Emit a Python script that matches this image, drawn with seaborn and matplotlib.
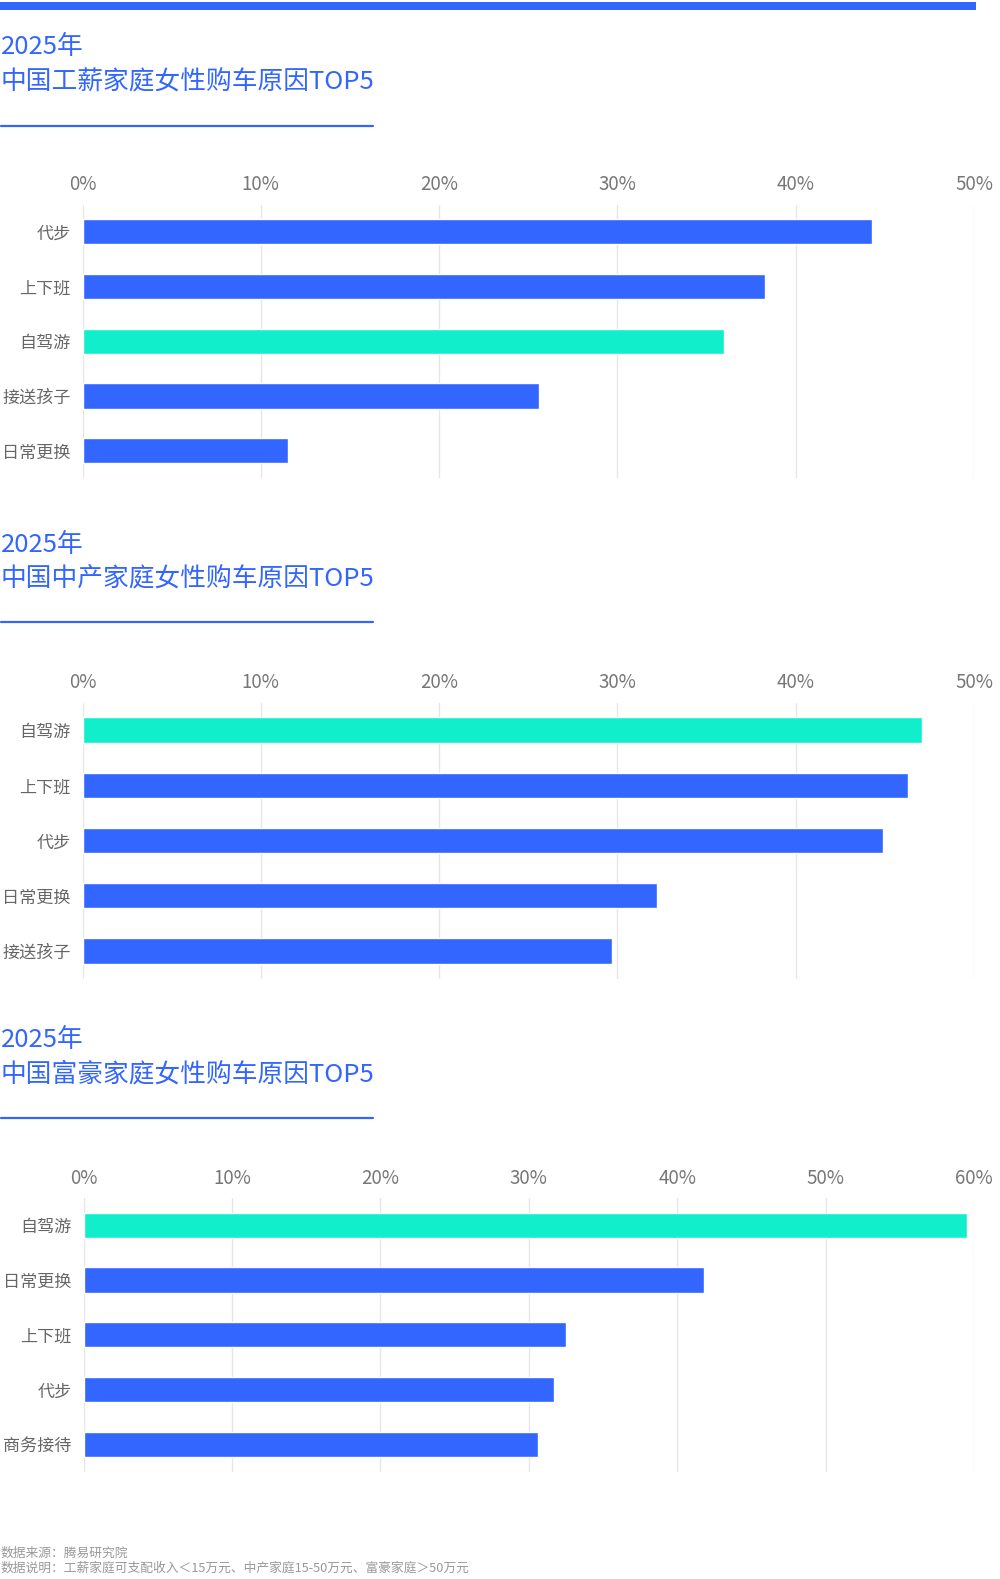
import matplotlib
matplotlib.use("Agg")
import matplotlib.pyplot as plt
import seaborn as sns
import pandas as pd
from matplotlib.lines import Line2D
from matplotlib.patches import Rectangle

sns.set_theme(style="white")
plt.rcParams['font.family'] = ['Noto Sans CJK SC', 'DejaVu Sans']

BLUE = "#3366FF"
TEAL = "#11EECB"

titles = ["中国工薪家庭女性购车原因TOP5", "中国中产家庭女性购车原因TOP5", "中国富豪家庭女性购车原因TOP5"]
year_label = "2025年"

cats1 = ["代步", "上下班", "自驾游", "接送孩子", "日常更换"]
vals1 = [44.3, 38.3, 36.0, 25.6, 11.5]

cats2 = ["自驾游", "上下班", "代步", "日常更换", "接送孩子"]
vals2 = [47.1, 46.3, 44.9, 32.2, 29.7]

cats3 = ["自驾游", "日常更换", "上下班", "代步", "商务接待"]
vals3 = [59.5, 41.8, 32.5, 31.7, 30.6]

ticks1 = [0, 10, 20, 30, 40, 50]
ticks3 = [0, 10, 20, 30, 40, 50, 60]

footer = ["数据来源：腾易研究院",
          "数据说明：工薪家庭可支配收入＜15万元、中产家庭15-50万元、富豪家庭＞50万元"]

W, H = 1000, 1579
fig = plt.figure(figsize=(W / 100, H / 100), dpi=100)

def fx(px):
    return px / W

def fy(py):
    return 1 - py / H

# top band
fig.add_artist(Rectangle((0, fy(9.5)), fx(976), 7.5 / H, transform=fig.transFigure,
                         color=BLUE, lw=0))

panels = [
    (cats1, vals1, ticks1, titles[0], 47.5, 82.5, 126, 204.5, 478, 82.5, 974),
    (cats2, vals2, ticks1, titles[1], 544.5, 580, 622, 702.5, 978.5, 82.5, 974),
    (cats3, vals3, ticks3, titles[2], 1040, 1075, 1118, 1198, 1471.5, 83.5, 974),
]

for cats, vals, ticks, title, ty1, ty2, uy, top, bot, left, right in panels:
    fig.text(fx(1), fy(ty1), year_label, color=BLUE, fontsize=18.5, va="center",
             ha="left", fontweight="light")
    fig.text(fx(1), fy(ty2), title, color=BLUE, fontsize=18.5, va="center",
             ha="left", fontweight="light")
    fig.add_artist(Line2D([fx(1), fx(373)], [fy(uy), fy(uy)], transform=fig.transFigure,
                          color=BLUE, lw=1.6))
    ax = fig.add_axes([fx(left), fy(bot), fx(right) - fx(left), (bot - top) / H])
    df = pd.DataFrame({"cat": cats, "val": vals})
    palette = {c: (TEAL if c == "自驾游" else BLUE) for c in cats}
    sns.barplot(data=df, x="val", y="cat", hue="cat", palette=palette, legend=False,
                width=0.46, ax=ax, saturation=1, order=cats)
    ax.set_xlim(0, ticks[-1])
    ax.set_ylim(4.5, -0.5)
    ax.set_xticks(ticks)
    ax.set_xticklabels([f"{t}%" for t in ticks])
    ax.xaxis.tick_top()
    ax.tick_params(axis="x", length=0, pad=6.5, labelsize=13.5, labelcolor="#777777")
    ax.tick_params(axis="y", length=0, pad=8.5, labelsize=12.3, labelcolor="#666666")
    ax.set_xlabel("")
    ax.set_ylabel("")
    ax.grid(axis="x", color="#e6e6e6", lw=1)
    ax.set_axisbelow(True)
    for s in ax.spines.values():
        s.set_visible(False)

fig.text(fx(1), fy(1553), footer[0], fontsize=9.2, color="#999999", va="center", ha="left")
fig.text(fx(1), fy(1568), footer[1], fontsize=9.2, color="#999999", va="center", ha="left")

fig.savefig("out.png", dpi=100, facecolor="white")
